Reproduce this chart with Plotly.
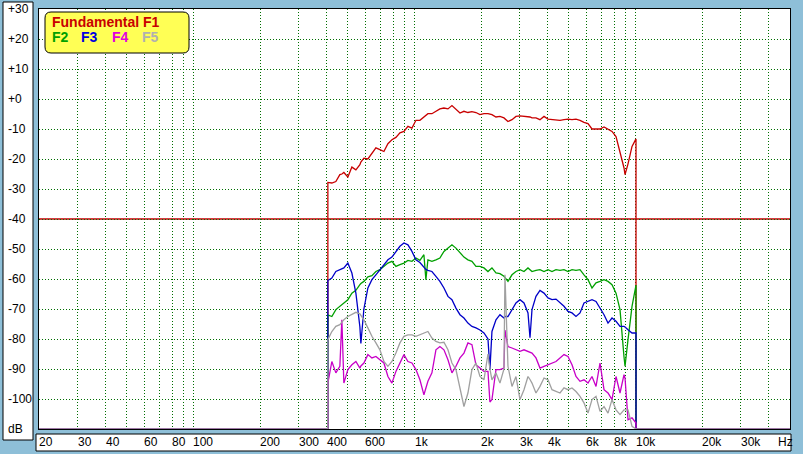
import math
import plotly.graph_objects as go

# ---------------- data ----------------
FREQ_HZ = [405.5, 422.7, 440.7, 459.5, 469.2, 479.1, 499.5, 520.8, 543.0, 566.1,
           572.0, 590.2, 615.4, 641.6, 668.9, 697.4, 727.1, 758.1, 790.4, 824.0,
           859.1, 895.7, 933.9, 973.7, 1015, 1058, 1103, 1126, 1150, 1199,
           1250, 1303, 1359, 1417, 1477, 1540, 1606, 1674, 1745, 1819,
           1897, 1978, 2062, 2150, 2194, 2241, 2337, 2436, 2540, 2566,
           2648, 2761, 2878, 3001, 3129, 3262, 3331, 3401, 3545, 3696,
           3854, 4018, 4189, 4367, 4553, 4747, 4949, 5160, 5379, 5608,
           5847, 6096, 6355, 6626, 6908, 7202, 7508, 7828, 8161, 8508,
           8871, 8965, 9248, 9642, 10052]

F1_DB = [-27.8, -28.0, -27.5, -25.2, -25.0, -24.5, -26.0, -22.7, -23.6, -21.9,
         -21.0, -19.7, -20.0, -18.0, -16.3, -16.9, -17.5, -14.9, -13.6, -12.8,
         -11.3, -10.8, -9.1, -9.7, -7.1, -7.1, -6.0, -5.5, -4.9, -4.9,
         -4.1, -3.3, -3.0, -3.3, -2.2, -3.3, -4.7, -4.1, -4.5, -4.2,
         -4.5, -5.2, -4.9, -4.9, -5.0, -5.2, -6.0, -5.8, -6.3, -6.6,
         -7.5, -6.9, -5.8, -5.6, -5.8, -5.8, -6.0, -6.3, -6.3, -6.9,
         -5.8, -6.7, -6.9, -6.9, -7.1, -6.9, -6.7, -6.9, -6.7, -7.1,
         -7.8, -8.2, -10.0, -10.0, -10.0, -9.3, -10.2, -10.8, -12.5, -17.5,
         -23.0, -25.2, -21.6, -15.8, -13.3]

F2_DB = [-72.0, -72.5, -70.2, -69.1, -68.5, -67.8, -66.9, -64.7, -63.8, -61.9,
         -61.5, -60.8, -59.3, -58.9, -57.5, -56.9, -55.8, -54.7, -54.1, -55.8,
         -55.2, -54.7, -53.8, -54.1, -53.0, -53.8, -51.9, -60.2, -53.6, -54.1,
         -53.6, -53.0, -50.8, -49.7, -48.6, -49.7, -51.3, -52.7, -53.6, -54.1,
         -55.8, -55.8, -56.3, -57.5, -56.9, -56.3, -58.0, -58.2, -59.1, -59.5,
         -60.8, -58.6, -57.5, -56.9, -57.5, -56.3, -57.0, -57.5, -57.1, -56.9,
         -57.5, -56.9, -57.5, -56.9, -57.1, -56.9, -57.5, -56.9, -57.1, -56.9,
         -58.6, -60.2, -63.0, -61.3, -60.8, -60.2, -60.8, -61.9, -64.7, -70.2,
         -86.0, -89.1, -80.2, -69.1, -62.0]

F3_DB = [-60.5, -59.7, -57.5, -56.9, -56.6, -56.3, -54.7, -58.0, -64.7, -76.0,
         -81.5, -70.0, -63.0, -60.2, -58.6, -56.9, -55.2, -53.6, -52.7, -50.8,
         -49.1, -48.0, -48.6, -50.8, -53.6, -54.5, -56.3, -56.8, -57.1, -57.5,
         -59.1, -60.8, -63.0, -65.8, -66.9, -69.7, -71.9, -73.0, -74.7, -75.8,
         -76.3, -77.0, -78.0, -80.0, -90.2, -77.5, -73.6, -71.9, -73.0, -72.5,
         -72.5, -70.2, -68.0, -66.9, -68.0, -71.3, -79.6, -70.2, -65.8, -63.8,
         -64.7, -66.3, -66.9, -66.7, -68.0, -69.1, -70.8, -71.3, -72.5, -71.3,
         -68.0, -67.5, -66.9, -67.5, -69.7, -71.9, -74.7, -73.0, -74.1, -75.8,
         -75.8, -76.0, -76.9, -78.0, -78.0]

F4_DB = [-94.7, -87.5, -91.3, -89.1, -73.6, -94.7, -90.2, -88.6, -87.5, -89.7,
         -89.0, -88.0, -85.2, -86.3, -85.8, -86.9, -88.0, -92.5, -94.7, -90.8,
         -88.0, -85.2, -87.5, -88.0, -90.2, -93.6, -98.6, -96.0, -94.1, -91.3,
         -83.6, -82.5, -83.6, -86.9, -91.3, -89.1, -86.3, -84.7, -81.3, -81.9,
         -88.6, -89.7, -90.8, -90.8, -101.0, -100.2, -90.2, -90.2, -89.7, -77.0,
         -82.5, -83.0, -83.6, -84.1, -83.6, -84.1, -84.5, -84.7, -86.3, -89.7,
         -89.1, -88.6, -88.0, -87.5, -86.3, -85.2, -85.8, -88.6, -92.5, -94.1,
         -93.6, -94.7, -92.5, -95.8, -88.0, -96.9, -98.0, -100.2, -92.5, -98.0,
         -91.9, -93.0, -106.9, -106.3, -108.0]

F5_DB = [-80.2, -77.5, -75.8, -75.2, -74.4, -73.6, -72.5, -71.9, -71.1, -71.6,
         -72.0, -73.6, -76.3, -79.1, -81.3, -83.6, -87.5, -89.1, -87.5, -84.7,
         -81.3, -79.1, -78.6, -78.6, -79.1, -78.6, -78.0, -77.8, -77.5, -79.7,
         -80.8, -81.3, -81.1, -83.6, -88.0, -90.2, -96.9, -102.5, -98.0, -90.2,
         -88.0, -92.5, -93.6, -85.0, -90.0, -93.6, -91.3, -94.7, -90.0, -58.6,
         -89.1, -95.8, -92.5, -100.2, -96.9, -92.5, -93.5, -94.7, -98.0, -95.8,
         -93.0, -93.6, -96.9, -97.5, -98.0, -96.3, -96.9, -96.3, -97.5, -99.1,
         -101.3, -104.7, -100.2, -99.1, -104.1, -102.5, -104.7, -100.2, -103.6, -105.2,
         -103.6, -103.6, -103.6, -109.1, -110.0]

SERIES = [("F1", F1_DB), ("F2", F2_DB), ("F3", F3_DB), ("F4", F4_DB), ("F5", F5_DB)]
TRACE_COLORS = {"F1": "#c80000", "F2": "#00a000", "F3": "#0000c8",
                "F4": "#c800c8", "F5": "#a0a0a0"}

X_MIN_HZ, X_MAX_HZ = 20, 50000
Y_MIN_DB, Y_MAX_DB = -110, 30
FLOOR_DB = -110
REF_LEVEL_DB = -40

GRID_HZ = ([20, 30, 40, 50, 60, 70, 80, 90] +
           [100, 200, 300, 400, 500, 600, 700, 800, 900] +
           [1000, 2000, 3000, 4000, 5000, 6000, 7000, 8000, 9000] +
           [10000, 20000, 30000, 40000])
X_TICK_HZ = [20, 30, 40, 60, 80, 100, 200, 300, 400, 600,
             1000, 2000, 3000, 4000, 6000, 8000, 10000, 20000, 30000]
X_TICK_LABELS = ["20", "30", "40", "60", "80", "100", "200", "300", "400", "600",
                 "1k", "2k", "3k", "4k", "6k", "8k", "10k", "20k", "30k"]
X_UNIT = "Hz"
Y_TICKS = [30, 20, 10, 0, -10, -20, -30, -40, -50, -60, -70, -80, -90, -100, -110]
Y_TICK_LABELS = ["+30", "+20", "+10", "+0", "-10", "-20", "-30", "-40", "-50",
                 "-60", "-70", "-80", "-90", "-100", "dB"]

# ---------------- layout geometry (pixels) ----------------
W, H = 803, 454
L, T, R, B = 39, 9, 13, 25
PW, PH = W - L - R, H - T - B
FONT = "Liberation Sans, Arial, sans-serif"
BG = "#8ebfd8"
GRID = "#006e00"
GRID_DASH = "1px,2px"


def xp(px):
    return (px - L) / PW


def yp(py):
    return (T + PH - py) / PH


fig = go.Figure()

for name, vals in SERIES:
    xs = [X_MIN_HZ, FREQ_HZ[0]] + FREQ_HZ + [FREQ_HZ[-1], X_MAX_HZ]
    ys = [FLOOR_DB, FLOOR_DB] + vals + [FLOOR_DB, FLOOR_DB]
    fig.add_trace(go.Scatter(x=xs, y=ys, mode="lines", name=name,
                             line=dict(color=TRACE_COLORS[name], width=1.3),
                             hoverinfo="skip", showlegend=False))

shapes = []
# white label panels
shapes.append(dict(type="rect", xref="paper", yref="paper", layer="below",
                   x0=xp(3), x1=xp(33), y0=yp(440), y1=yp(2),
                   fillcolor="white", line=dict(color="black", width=1)))
shapes.append(dict(type="rect", xref="paper", yref="paper", layer="below",
                   x0=xp(36), x1=xp(791), y0=yp(451), y1=yp(434),
                   fillcolor="white", line=dict(color="black", width=1)))
# reference level line
shapes.append(dict(type="line", xref="paper", yref="y", layer="below",
                   x0=0, x1=1, y0=REF_LEVEL_DB, y1=REF_LEVEL_DB,
                   line=dict(color="#c00000", width=1.3)))
# rounded legend box
lx0, lx1, ly0, ly1, rr = 45, 189, 12, 53, 6
path = (f"M {xp(lx0+rr)},{yp(ly0)} L {xp(lx1-rr)},{yp(ly0)} "
        f"Q {xp(lx1)},{yp(ly0)} {xp(lx1)},{yp(ly0+rr)} "
        f"L {xp(lx1)},{yp(ly1-rr)} Q {xp(lx1)},{yp(ly1)} {xp(lx1-rr)},{yp(ly1)} "
        f"L {xp(lx0+rr)},{yp(ly1)} Q {xp(lx0)},{yp(ly1)} {xp(lx0)},{yp(ly1-rr)} "
        f"L {xp(lx0)},{yp(ly0+rr)} Q {xp(lx0)},{yp(ly0)} {xp(lx0+rr)},{yp(ly0)} Z")
shapes.append(dict(type="path", xref="paper", yref="paper", layer="above",
                   path=path, fillcolor="#ffff55", line=dict(color="black", width=1)))

annotations = []
for v, t in zip(Y_TICKS, Y_TICK_LABELS):
    annotations.append(dict(xref="paper", yref="y", x=xp(6), y=v, text=t,
                            xanchor="left", yanchor="middle", showarrow=False,
                            font=dict(family=FONT, size=12, color="black")))
for v, t in zip(X_TICK_HZ, X_TICK_LABELS):
    annotations.append(dict(xref="x", yref="paper", x=math.log10(v), y=yp(442.5),
                            text=t, xanchor="left", yanchor="middle", showarrow=False,
                            xshift=-2, font=dict(family=FONT, size=12, color="black")))
annotations.append(dict(xref="paper", yref="paper", x=xp(776), y=yp(442.5),
                        text=X_UNIT, xanchor="left", yanchor="middle", showarrow=False,
                        font=dict(family=FONT, size=12, color="black")))
legend_items = [("Fundamental F1", "F1", 50, 22),
                ("F2", "F2", 50, 37), ("F3", "F3", 79, 37),
                ("F4", "F4", 110, 37), ("F5", "F5", 140, 37)]
LEGEND_TEXT_COLORS = {"F1": "#c80000", "F2": "#00a000", "F3": "#0000e0",
                      "F4": "#e000e0", "F5": "#b0b0b0"}
for text, key, px, py in legend_items:
    annotations.append(dict(xref="paper", yref="paper", x=xp(px), y=yp(py),
                            text=f"<b>{text}</b>", xanchor="left", yanchor="middle",
                            showarrow=False,
                            font=dict(family=FONT, size=14, color=LEGEND_TEXT_COLORS[key])))

fig.update_layout(
    width=W, height=H,
    margin=dict(l=L, r=R, t=T, b=B, pad=0),
    paper_bgcolor=BG, plot_bgcolor="white",
    showlegend=False,
    shapes=shapes, annotations=annotations,
    xaxis=dict(type="log", range=[math.log10(X_MIN_HZ), math.log10(X_MAX_HZ)],
               tickvals=GRID_HZ, showticklabels=False, ticks="",
               showgrid=True, gridcolor=GRID, griddash=GRID_DASH, gridwidth=1,
               showline=True, mirror=True, linecolor="black", linewidth=1,
               zeroline=False, automargin=False, fixedrange=True),
    yaxis=dict(range=[Y_MIN_DB, Y_MAX_DB], tickvals=Y_TICKS, showticklabels=False,
               ticks="", showgrid=True, gridcolor=GRID, griddash=GRID_DASH, gridwidth=1,
               showline=True, mirror=True, linecolor="black", linewidth=1,
               zeroline=False, automargin=False, fixedrange=True),
)

fig.write_html("out.html", config={"displayModeBar": False},
               post_script="document.body.style.margin='0';document.body.style.overflow='hidden';")
